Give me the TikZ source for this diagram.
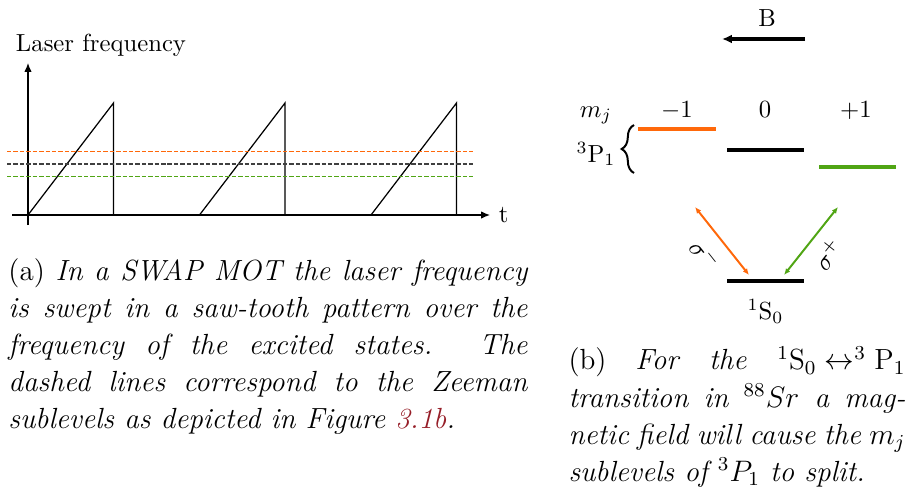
\documentclass[tikz,border=0pt]{standalone}
\usepackage{fontspec}
\usepackage{amsmath}
\usetikzlibrary{arrows.meta,decorations.pathreplacing}
\definecolor{levelorange}{RGB}{255,104,10}
\definecolor{levelgreen}{RGB}{80,165,20}
\definecolor{linkred}{RGB}{150,30,40}
\tikzset{
    axis/.style={-{Latex[length=3.6pt,width=3pt]},line width=0.5pt},
    level/.style={line width=1.5pt},
    zeeman/.style={line width=0.6pt,dash pattern=on 1.8pt off 0.8pt},
    transition/.style={{Latex[length=2.6pt,width=2.2pt]}-{Latex[length=2.6pt,width=2.2pt]},line width=0.8pt},
    caption/.style={inner sep=0pt,align=justify,font=\fontsize{11.8}{15}\selectfont}
}
\begin{document}
\begin{tikzpicture}[x=0.405pt,y=0.405pt]
        \useasboundingbox (0,0) rectangle (907,487);

        \coordinate (O) at (28,272);
        \coordinate (Ytop) at (28,424);
        \coordinate (Xend) at (490,272);

        \draw[axis] (28,262) -- (Ytop);
        \draw[axis] (12,272) -- (Xend) node[right] (tlabel) {t};
        \node[anchor=base] (freqlabel) at (101,435) {Laser frequency};

        \foreach \s in {28,199.5,371}
            \draw[line width=0.5pt] (\s,272) -- ++(85.5,112) -- ++(0,-112);

        \draw[zeeman,levelorange] (7,335.5) -- (473,335.5);
        \draw[zeeman,black!75] (7,323) -- (473,323);
        \draw[zeeman,levelgreen] (7,310.5) -- (473,310.5);

        \draw[-{Latex[length=4pt,width=3.6pt]},line width=1.5pt] (805,448) -- (722,448);
        \node (bfield) at (767,469) {B};

        \node[anchor=base] (mj) at (596,370) {$m_j$};
        \node[anchor=base] (mminus) at (677,370) {$-1$};
        \node[anchor=base] (mzero) at (765,370) {$0$};
        \node[anchor=base] (mplus) at (856,370) {$+1$};

        \coordinate (Pm) at (638,358);
        \coordinate (Pz) at (727,337);
        \coordinate (Pp) at (819,320);
        \coordinate (S) at (727,206);

        \draw[level,levelorange] (Pm) -- ++(78,0);
        \draw[level] (Pz) -- ++(77,0);
        \draw[level,levelgreen] (Pp) -- ++(77,0);
        \draw[level] (S) -- ++(77,0) node[midway,below=3.5pt] (s0) {$^1\mathrm{S}_0$};

        \draw[decorate,decoration={brace,amplitude=5pt},line width=0.8pt]
            (634,314) -- (634,362);
        \node[anchor=base east,inner sep=0pt] (p3) at (616,325) {$^3\mathrm{P}_1$};

        \draw[transition,levelorange] (695,280) -- (749,212)
            node[midway,sloped,below=1pt,text=black] (sigminus) {$\sigma^-$};
        \draw[transition,levelgreen] (784,212) -- (838,280)
            node[midway,sloped,below=1pt,text=black] (sigplus) {$\sigma^+$};

        \node[caption,text width=210.2pt,anchor=north west] (capa) at (8,229)
            {(a) \textit{In a SWAP MOT the laser frequency\linebreak
            is swept in a saw-tooth pattern over the\linebreak
            frequency of the excited states. The\linebreak
            dashed lines correspond to the Zeeman\linebreak
            sublevels as depicted in Figure \textcolor{linkred}{3.1b}.}};
        \node[caption,text width=136.5pt,anchor=north west] (capb) at (568,141)
            {(b) \textit{For the \mbox{$^1\mathrm{S}_0 \leftrightarrow ^3 \mathrm{P}_1$}\linebreak
            transition in $^{88}Sr$ a mag-\linebreak
            netic field will cause the $m_j$\linebreak
            sublevels of $^3P_1$ to split.}};
    \end{tikzpicture}
\end{document}
